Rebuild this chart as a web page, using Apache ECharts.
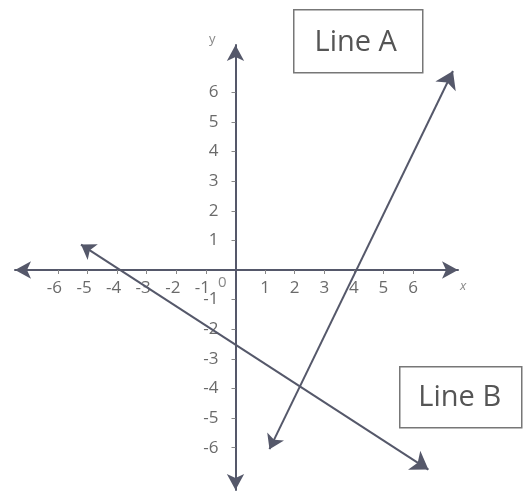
<!DOCTYPE html>
<html>
<head>
<meta charset="utf-8">
<script src="https://cdn.jsdelivr.net/npm/echarts@6/dist/echarts.min.js"></script>
<style>
  html, body { margin: 0; padding: 0; background: #fff; }
  #chart { width: 523px; height: 498px; }
</style>
</head>
<body>
<div id="chart"></div>
<script>
// tick labels
const xTicks = [-6, -5, -4, -3, -2, -1, 1, 2, 3, 4, 5, 6]
const yTicks = [-6, -5, -4, -3, -2, -1, 0, 1, 2, 3, 4, 5, 6]
// visible extent of the axes (arrow to arrow)
const xRange = [-7.45, 7.52]
const yRange = [-7.43, 7.6]
// end points of the two lines
const lineA = [[1.15, -6.05], [7.35, 6.72]]
const lineB = [[-5.22, 0.86], [6.52, -6.74]]
const lineNames = ['Line A', 'Line B']

const ink = '#55586a'
const textColor = '#6a6a6a'
const font = '"Open Sans", sans-serif'

const chart = echarts.init(document.getElementById('chart'))

function axisBase() {
  return {
    type: 'value',
    splitLine: { show: false },
    axisLine: {
      onZero: false,
      symbol: ['arrow', 'arrow'],
      symbolSize: [13, 16],
      lineStyle: { color: ink, width: 2 },
    },
  }
}

const option = {
  backgroundColor: '#fff',
  animation: false,
  grid: { left: 15, right: 65, top: 45, bottom: 8, containLabel: false, outerBoundsMode: 'none' },
  xAxis: {
    ...axisBase(),
    position: 'bottom',
    offset: -220,
    min: xRange[0],
    max: xRange[1],
    name: 'x',
    nameLocation: 'end',
    nameGap: 2,
    nameTextStyle: {
      fontFamily: font, fontSize: 13, fontStyle: 'italic', color: '#888',
      verticalAlign: 'top', padding: [10, 0, 0, 0],
    },
    axisTick: { show: true, length: 4, customValues: xTicks, lineStyle: { color: '#888' } },
    axisLabel: {
      customValues: xTicks,
      margin: 10,
      fontFamily: font,
      fontSize: 17,
      color: textColor,
      formatter: (v) => (v < 0 ? '{n|' + v + '}' : String(v)),
      rich: { n: { fontFamily: font, fontSize: 17, color: textColor, padding: [0, 7, 0, 0] } },
    },
  },
  yAxis: {
    ...axisBase(),
    position: 'left',
    offset: -220.5,
    min: yRange[0],
    max: yRange[1],
    name: 'y',
    nameLocation: 'end',
    nameGap: -1,
    nameTextStyle: {
      fontFamily: font, fontSize: 13, color: '#888',
      align: 'right', padding: [0, 20, 0, 0],
    },
    axisTick: { show: true, length: 4, customValues: yTicks.filter((v) => v !== 0), lineStyle: { color: '#888' } },
    axisLabel: {
      customValues: yTicks,
      margin: 17,
      fontFamily: font,
      fontSize: 17,
      color: textColor,
      formatter: (v) => (v === 0 ? '{z|0}' : String(v)),
      rich: { z: { fontFamily: font, fontSize: 15, color: '#888', padding: [26, -8, 0, 0] } },
    },
  },
  series: [lineA, lineB].map((pts, i) => ({
    type: 'lines',
    name: lineNames[i],
    coordinateSystem: 'cartesian2d',
    symbol: ['arrow', 'arrow'],
    symbolSize: [14, 17],
    lineStyle: { color: ink, width: 2, opacity: 1 },
    data: [{ coords: pts }],
  })),
  graphic: [
    {
      type: 'group', left: 293, top: 9,
      children: [
        { type: 'rect', shape: { x: 0, y: 0, width: 129, height: 63 }, style: { fill: '#fff', stroke: '#777', lineWidth: 1.5 } },
        { type: 'text', x: 62, y: 33, style: { text: lineNames[0], font: '29px ' + font, fill: '#555', align: 'center', verticalAlign: 'middle' } },
      ],
    },
    {
      type: 'group', left: 399, top: 366,
      children: [
        { type: 'rect', shape: { x: 0, y: 0, width: 122, height: 61 }, style: { fill: '#fff', stroke: '#777', lineWidth: 1.5 } },
        { type: 'text', x: 60, y: 31, style: { text: lineNames[1], font: '29px ' + font, fill: '#555', align: 'center', verticalAlign: 'middle' } },
      ],
    },
  ],
}

chart.setOption(option)
</script>
</body>
</html>
